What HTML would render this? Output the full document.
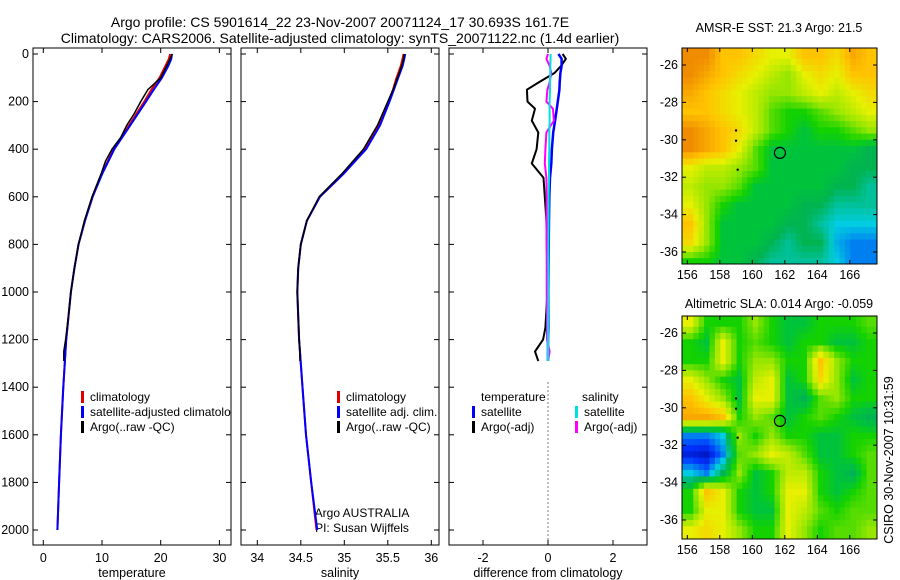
<!DOCTYPE html>
<html><head><meta charset="utf-8"><style>
html,body{margin:0;padding:0;background:#fff;}
svg{display:block;font-family:"Liberation Sans",sans-serif;}
</style></head><body>
<svg id="fig" width="900" height="580" viewBox="0 0 900 580">
<text x="340" y="27" font-size="14" text-anchor="middle">Argo profile: CS 5901614_22 23-Nov-2007 20071124_17 30.693S 161.7E</text>
<text x="340" y="43" font-size="14" text-anchor="middle">Climatology: CARS2006. Satellite-adjusted climatology: synTS_20071122.nc (1.4d earlier)</text>
<text x="779" y="32" font-size="12.5" text-anchor="middle">AMSR-E SST: 21.3 Argo: 21.5</text>
<text x="779" y="308" font-size="12.5" text-anchor="middle">Altimetric SLA: 0.014 Argo: -0.059</text>
<text x="0" y="0" font-size="12.5" text-anchor="middle" transform="translate(893,460) rotate(-90)">CSIRO 30-Nov-2007 10:31:59</text>
<text x="362" y="517" font-size="12" text-anchor="middle">Argo AUSTRALIA</text>
<text x="362" y="532" font-size="12" text-anchor="middle">PI: Susan Wijffels</text>
</svg>
<script>
// ---- data ----
const depthT = [0,20,50,100,150,200,300,400,500,600,700,800,900,1000,1200,1400,1600,1800,2000];
const tempClim = [21.6,21.4,20.8,19.8,18.4,17.2,14.6,12.0,10.0,8.4,7.1,6.0,5.3,4.7,3.9,3.4,3.0,2.7,2.4];
const tempSat = [21.9,21.8,21.3,20.2,18.8,17.5,14.8,12.1,10.1,8.4,7.1,6.0,5.3,4.7,3.9,3.4,3.0,2.7,2.4];
const depthArgo = [0,20,50,100,150,200,250,300,350,400,450,500,600,700,800,900,1000,1100,1200,1250,1290];
const tempArgo = [22.0,21.6,21.0,20.0,17.8,16.6,15.5,14.2,13.2,11.7,10.6,9.9,8.3,7.0,6.0,5.3,4.7,4.3,3.8,3.5,3.5];
const salClim = [35.68,35.67,35.65,35.6,35.56,35.51,35.4,35.24,35.0,34.72,34.57,34.5,34.47,34.46,34.48,34.52,34.56,34.62,34.68];
const salSat = [35.70,35.69,35.67,35.62,35.57,35.52,35.41,35.25,35.0,34.72,34.57,34.5,34.47,34.46,34.48,34.52,34.56,34.62,34.69];
const salArgo = [35.69,35.68,35.66,35.61,35.56,35.5,35.44,35.38,35.3,35.22,35.1,34.98,34.71,34.57,34.5,34.47,34.46,34.47,34.48,34.49,34.49];
const depthD = [0,20,50,80,120,150,200,230,280,330,400,460,520,600,700,850,1000,1150,1200,1250,1290];
const dTempArgo = [0.45,0.55,0.4,0.2,-0.3,-0.65,-0.63,-0.4,-0.5,-0.3,-0.35,-0.5,-0.14,-0.1,-0.05,-0.03,-0.02,-0.08,-0.15,-0.4,-0.3];
const dTempSat = [0.32,0.42,0.42,0.38,0.36,0.35,0.3,0.27,0.22,0.16,0.12,0.1,0.06,0.04,0.03,0.02,0.01,0.01,0.0,0.0,0.0];
const dSalArgo = [0.0,-0.05,0.05,0.1,0.05,-0.02,-0.05,0.15,0.18,-0.05,-0.08,-0.1,-0.05,-0.04,-0.05,-0.04,-0.04,-0.03,-0.03,0.05,0.0];
const dSalSat = [0.08,0.08,0.07,0.07,0.06,0.06,0.05,0.05,0.05,0.04,0.04,0.03,0.03,0.02,0.02,0.01,0.01,0.0,0.0,0.0,0.0];
const depthTicks = [0,200,400,600,800,1000,1200,1400,1600,1800,2000];
const tempTicks = [0,10,20,30];
const salTicks = [34,34.5,35,35.5,36];
const diffTicks = [-2,0,2];
const lonTicks = [156,158,160,162,164,166];
const latTicks = [-26,-28,-30,-32,-34,-36];
const sstGrid = [
[8,8,7,7,6.5,6,6,7,7,6.5,7.5,7],
[8,7.5,7,6.5,6,5.5,5,6,6.5,6,7,7],
[7.5,7,6.5,6,5.5,5,5,5.5,6,5.5,6,6.5],
[7,7,6.5,6,5.5,4.5,4,4,4.5,5,5.5,6],
[8,7.5,7,6.5,5.5,4.5,4,3.5,4,4,4.5,5],
[8,7.5,7,6,4.5,3.5,3.5,3.5,3.5,3.5,3.5,3],
[6,5.5,5.5,5,4.5,3.5,3.5,3.5,3.5,3.5,3,3],
[5.5,5,5,4.5,3.5,3.5,3.5,3.5,3.5,3,3,2.5],
[6,5,4,3.5,3.5,3.5,3.5,3,3,2.5,2.5,2.5],
[7,5,3.5,3.5,3.5,3.5,3,3,2.5,2,2,2],
[6.5,5,3.5,3.5,3.5,3,2.5,3,3,1.8,1.5,1.5],
[4,4,3.5,3.5,3,2.5,2.5,2.5,2.5,2,1.5,1.5]];
const slaGrid = [
[6,4,4,4,5,4,3.5,3.5,4,4,4,4.5],
[4,3.5,6,4,4.5,4,3.5,4,4,3.5,3.5,4],
[4,4,6,4,5,5,4,4,7,5,4,4],
[6,5,4,3.5,5.5,6,3.5,4,6.5,5,3.5,4],
[7,6,5,3.5,6,6,3.5,3,4.5,5,4,4],
[7.5,7.5,7,4,5,4.5,3.5,4,4.5,4,3.5,3],
[1.5,1.5,2,5,4,5,4,4,3.5,3.5,4,4],
[0.7,0.5,1.5,4.5,5,6,5.5,4.5,3.5,3.5,4,4.5],
[2,1.5,3,5,3.5,4,5.5,5.5,4,3.5,3,4.5],
[4,7,6,4,3.5,4,6,6,4,3.5,4,4.5],
[4,6,6,4,3.5,3.5,6,5.5,4.5,4,4.5,4.5],
[6,6.5,6,5,4,4,6,5,4,4.5,4.5,5]];
const argoPos = [161.7,-30.7];
const trackLon = [159.0,159.0,159.1];
const trackLat = [-29.5,-30.05,-31.6];

// ---- drawing ----
const NS='http://www.w3.org/2000/svg';
const svg=document.getElementById('fig');
function mk(tag,attrs,parent){const e=document.createElementNS(NS,tag);for(const k in attrs)e.setAttribute(k,attrs[k]);(parent||svg).appendChild(e);return e;}
const yTop=54, yPx=0.238;
const yD=d=>yTop+d*yPx;
function line(xs,ds,xf,col,w,name){
  const p=mk('polyline',{points:xs.map((v,i)=>xf(v).toFixed(1)+','+yD(ds[i]).toFixed(1)).join(' '),fill:'none',stroke:col,'stroke-width':w,'stroke-linejoin':'round'});
  
  
}
function panel(x0,x1,xf,ticks,label,name,showY){
  const g=mk('g',{});
  
  
  mk('rect',{x:x0,y:yTop-6,width:x1-x0,height:545-(yTop-6),fill:'none',stroke:'#000','stroke-width':1},g);
  ticks.forEach(t=>{const x=xf(t);
    mk('line',{x1:x,x2:x,y1:545,y2:540,stroke:'#000'},g);
    mk('line',{x1:x,x2:x,y1:yTop-6,y2:yTop-1,stroke:'#000'},g);
    const tx=mk('text',{x:x,y:562,'font-size':12.5,'text-anchor':'middle'},g);tx.textContent=t;
    
    
  });
  depthTicks.forEach(d=>{const y=yD(d);
    mk('line',{x1:x0,x2:x0+5,y1:y,y2:y,stroke:'#000'},g);
    mk('line',{x1:x1,x2:x1-5,y1:y,y2:y,stroke:'#000'},g);
    if(showY){const tx=mk('text',{x:x0-4,y:y+4,'font-size':12.5,'text-anchor':'end'},g);tx.textContent=d;
      
      }
  });
  const lb=mk('text',{x:(x0+x1)/2,y:577,'font-size':12.5,'text-anchor':'middle'},g);lb.textContent=label;
  
  
}
function legend(x,y,col,txt,clip){
  const g=mk('g',{});
  
  
  mk('rect',{x:x,y:y-10,width:3,height:12,fill:col},g);
  const t=mk('text',{x:x+9,y:y,'font-size':12},g);t.textContent=txt;
  if(clip)t.setAttribute('clip-path','url(#'+clip+')');
}
const defs=mk('defs',{});
const cp=mk('clipPath',{id:'c1'},defs);mk('rect',{x:33,y:0,width:198,height:580},cp);

// temperature
const xT=v=>43.3+v*5.87;
panel(33,231,xT,tempTicks,'temperature','temperature-panel',true);
line(tempClim,depthT,xT,'#e00000',2,'temp-climatology-line');
line(tempSat,depthT,xT,'#0000ff',2,'temp-satellite-line');
line(tempArgo,depthArgo,xT,'#000',1.5,'temp-argo-line');
legend(81,401,'#e00000','climatology');
legend(81,416,'#0000ff','satellite-adjusted climatology','c1');
legend(81,431,'#000','Argo(..raw -QC)');

// salinity
const xS=v=>257.3+(v-34)*87;
panel(241,439,xS,salTicks,'salinity','salinity-panel',false);
line(salClim,depthT,xS,'#e00000',2,'sal-climatology-line');
line(salSat,depthT,xS,'#0000ff',2,'sal-satellite-line');
line(salArgo,depthArgo,xS,'#000',1.5,'sal-argo-line');
legend(337,401,'#e00000','climatology');
legend(337,416,'#0000ff','satellite adj. clim.');
legend(337,431,'#000','Argo(..raw -QC)');

// difference
const xDf=v=>548+v*32.5;
panel(449,647,xDf,diffTicks,'difference from climatology','difference-panel',false);
mk('line',{x1:548,x2:548,y1:yD(1380),y2:545,stroke:'#000','stroke-dasharray':'1,3'});
line(dTempArgo,depthD,xDf,'#000',2,'diff-temp-argo-line');
line(dTempSat,depthD,xDf,'#0000ff',2.5,'diff-temp-satellite-line');
line(dSalArgo,depthD,xDf,'#ff00ff',2,'diff-sal-argo-line');
line(dSalSat,depthD,xDf,'#00e0e0',2,'diff-sal-satellite-line');
[['temperature',481],['salinity',582]].forEach(a=>{const t=mk('text',{x:a[1],y:401,'font-size':12});t.textContent=a[0];
  
  });
legend(472,416,'#0000ff','satellite');
legend(472,431,'#000','Argo(-adj)');
legend(575,416,'#00e0e0','satellite');
legend(575,431,'#ff00ff','Argo(-adj)');

// maps
const stops=[[0,[0,0,140]],[1,[0,50,255]],[2,[0,205,225]],[3,[0,180,80]],[3.5,[0,195,60]],[4,[20,210,0]],[5,[150,230,0]],[6,[230,240,0]],[7,[255,195,0]],[8,[240,140,0]],[10,[200,80,0]]];
function cmap(v){for(let i=1;i<stops.length;i++){if(v<=stops[i][0]){const a=stops[i-1],b=stops[i],f=(v-a[0])/(b[0]-a[0]);return 'rgb('+a[1].map((c,k)=>Math.round(c+(b[1][k]-c)*f)).join(',')+')';}}return 'rgb(200,80,0)';}
function sample(grid,fr,fc){
  const nr=grid.length,nc=grid[0].length;
  fr=Math.max(0,Math.min(nr-1,fr));fc=Math.max(0,Math.min(nc-1,fc));
  const r0=Math.floor(fr),c0=Math.floor(fc),r1=Math.min(nr-1,r0+1),c1=Math.min(nc-1,c0+1);
  const a=fr-r0,b=fc-c0;
  return grid[r0][c0]*(1-a)*(1-b)+grid[r0][c1]*(1-a)*b+grid[r1][c0]*a*(1-b)+grid[r1][c1]*a*b;
}
function map(y0,y1,grid,name){
  const lx=v=>687.3+(v-156)*16.25;
  const off=y0-48;
  const ly=v=>65+(-26-v)*18.7+off;
  const x0=682,x1=877;
  const g=mk('g',{});
  
  
  const cid='clip'+name;const c=mk('clipPath',{id:cid},defs);mk('rect',{x:x0,y:y0,width:x1-x0,height:y1-y0},c);
  const cg=mk('g',{'clip-path':'url(#'+cid+')'},g);
  const sub=3, nr=grid.length, nc=grid[0].length;
  for(let r=0;r<nr*sub;r++)for(let ci=0;ci<nc*sub;ci++){
    const lon=155.7+ci/sub, lat=-25-r/sub;
    const v=sample(grid,(r+0.5)/sub-0.5,(ci+0.5)/sub-0.5);
    const cell=mk('rect',{x:lx(lon).toFixed(1),y:ly(lat).toFixed(1),width:(16.25/sub+0.6).toFixed(2),height:(18.7/sub+0.6).toFixed(2),fill:cmap(v)},cg);
    
    
  }
  mk('rect',{x:x0,y:y0,width:x1-x0,height:y1-y0,fill:'none',stroke:'#000'},g);
  lonTicks.forEach(t=>{const x=lx(t);
    mk('line',{x1:x,x2:x,y1:y1,y2:y1-4,stroke:'#000'},g);mk('line',{x1:x,x2:x,y1:y0,y2:y0+4,stroke:'#000'},g);
    const tx=mk('text',{x:x,y:y1+15,'font-size':12.5,'text-anchor':'middle'},g);tx.textContent=t;
    
    });
  latTicks.forEach(t=>{const y=ly(t);
    mk('line',{x1:x0,x2:x0+4,y1:y,y2:y,stroke:'#000'},g);mk('line',{x1:x1,x2:x1-4,y1:y,y2:y,stroke:'#000'},g);
    const tx=mk('text',{x:x0-4,y:y+4,'font-size':12.5,'text-anchor':'end'},g);tx.textContent=t;
    
    });
  trackLon.forEach((lo,i)=>{const d=mk('circle',{cx:lx(lo),cy:ly(trackLat[i]),r:1.2,fill:'#000'},g);
    
    });
  const m=mk('circle',{cx:lx(argoPos[0]),cy:ly(argoPos[1]),r:5.5,fill:'none',stroke:'#000','stroke-width':1.2},g);
  
  
}
map(48,264,sstGrid,'sst-map');
map(316,539,slaGrid,'sla-map');
</script>
</body></html>
